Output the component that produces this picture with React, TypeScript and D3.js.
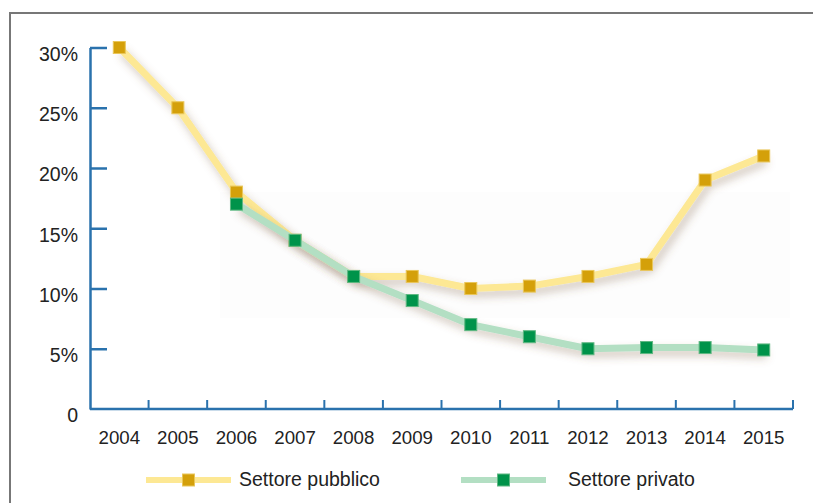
import React, { useEffect, useRef } from 'react';
import * as d3 from 'd3';

const years = ['2004', '2005', '2006', '2007', '2008', '2009', '2010', '2011', '2012', '2013', '2014', '2015'];
const pubblico = [30, 25, 18, 14, 11, 11, 10, 10.2, 11, 12, 19, 21];
const privato = [null, null, 17, 14, 11, 9, 7, 6, 5, 5.1, 5.1, 4.9];
const yTicks = [0, 5, 10, 15, 20, 25, 30];
const seriesNames = ['Settore pubblico', 'Settore privato'];

const W = 813;
const H = 503;

const App: React.FC = () => {
  const ref = useRef<SVGSVGElement>(null);

  useEffect(() => {
    const svg = d3.select(ref.current);
    svg.selectAll('*').remove();

    const x = d3.scaleBand().domain(years).range([90, 793]);
    const y = d3.scaleLinear().domain([0, 30]).range([409, 47.5]);
    const cx = (yr: string) => (x(yr) ?? 0) + x.bandwidth() / 2;

    const defs = svg.append('defs');
    const f = defs.append('filter').attr('id', 'shadow')
      .attr('x', '-20%').attr('y', '-20%').attr('width', '140%').attr('height', '140%');
    f.append('feDropShadow')
      .attr('dx', 3).attr('dy', 5).attr('stdDeviation', 4)
      .attr('flood-color', '#7a5a3a').attr('flood-opacity', 0.35);

    // frame
    svg.append('path')
      .attr('d', `M10,${H} L10,13 L${W},13`)
      .attr('fill', 'none').attr('stroke', '#777').attr('stroke-width', 2);

    // faint panel
    svg.append('rect')
      .attr('x', 220).attr('y', 192).attr('width', 570).attr('height', 126)
      .attr('fill', '#fdfdfd');

    // y axis
    const yAxis = d3.axisLeft(y)
      .tickValues(yTicks)
      .tickSizeInner(-17)
      .tickSizeOuter(0)
      .tickPadding(12)
      .tickFormat((d) => (d === 0 ? '0' : `${d}%`));
    const gy = svg.append('g').attr('transform', 'translate(90,0)').call(yAxis);
    gy.selectAll('path, line').attr('stroke', '#2a72ad').attr('stroke-width', 2.5);
    gy.selectAll('text')
      .attr('font-family', 'Liberation Sans, Arial, sans-serif')
      .attr('font-size', 19.5).attr('fill', '#222')
      .attr('dy', '0.66em');
    gy.selectAll('.tick').filter((d) => d === 0).select('line').remove();

    // x axis
    const gx = svg.append('g');
    gx.append('line')
      .attr('x1', 90).attr('x2', 793).attr('y1', y(0)).attr('y2', y(0))
      .attr('stroke', '#2a72ad').attr('stroke-width', 2.5);
    gx.selectAll('line.tk').data(years).enter().append('line')
      .attr('class', 'tk')
      .attr('x1', (d) => (x(d) ?? 0) + x.bandwidth())
      .attr('x2', (d) => (x(d) ?? 0) + x.bandwidth())
      .attr('y1', y(0)).attr('y2', y(0) - 9)
      .attr('stroke', '#2a72ad').attr('stroke-width', 2);
    gx.selectAll('text').data(years).enter().append('text')
      .attr('x', (d) => cx(d)).attr('y', 444)
      .attr('text-anchor', 'middle')
      .attr('font-family', 'Liberation Sans, Arial, sans-serif')
      .attr('font-size', 18.7).attr('fill', '#222')
      .text((d) => d);

    const series = [
      { values: pubblico, line: '#fde894', fill: '#d4a00a', stroke: '#e9c65a' },
      { values: privato, line: '#b3dfc3', fill: '#00934a', stroke: '#5fb882' },
    ];

    const line = d3.line<[string, number | null]>()
      .defined((d) => d[1] != null)
      .x((d) => cx(d[0]))
      .y((d) => y(d[1] as number));

    series.forEach((s) => {
      const pts = years.map((yr, i) => [yr, s.values[i]] as [string, number | null]);
      const g = svg.append('g');
      g.append('path')
        .datum(pts)
        .attr('d', line)
        .attr('fill', 'none')
        .attr('stroke', s.line)
        .attr('stroke-width', 7)
        .attr('stroke-linejoin', 'round')
        .attr('filter', 'url(#shadow)');
      g.selectAll('rect').data(pts.filter((d) => d[1] != null)).enter().append('rect')
        .attr('x', (d) => cx(d[0]) - 6)
        .attr('y', (d) => y(d[1] as number) - 6)
        .attr('width', 12).attr('height', 12)
        .attr('fill', s.fill).attr('stroke', s.stroke).attr('stroke-width', 1);
    });

    // legend
    const legendPos = [
      { x1: 146, x2: 231, tx: 239 },
      { x1: 461, x2: 546, tx: 568 },
    ];
    seriesNames.forEach((name, i) => {
      const p = legendPos[i];
      const s = series[i];
      const lg = svg.append('g');
      lg.append('line')
        .attr('x1', p.x1).attr('x2', p.x2).attr('y1', 480).attr('y2', 480)
        .attr('stroke', s.line).attr('stroke-width', 6);
      lg.append('rect')
        .attr('x', (p.x1 + p.x2) / 2 - 6).attr('y', 474)
        .attr('width', 12).attr('height', 12)
        .attr('fill', s.fill).attr('stroke', s.stroke).attr('stroke-width', 1);
      lg.append('text')
        .attr('x', p.tx).attr('y', 486)
        .attr('font-family', 'Liberation Sans, Arial, sans-serif')
        .attr('font-size', 19.5).attr('fill', '#222')
        .text(name);
    });
  }, []);

  return (
    <svg
      ref={ref}
      width={W}
      height={H}
      style={{ position: 'absolute', left: 0, top: 0, background: '#fff' }}
    />
  );
};

export default App;
